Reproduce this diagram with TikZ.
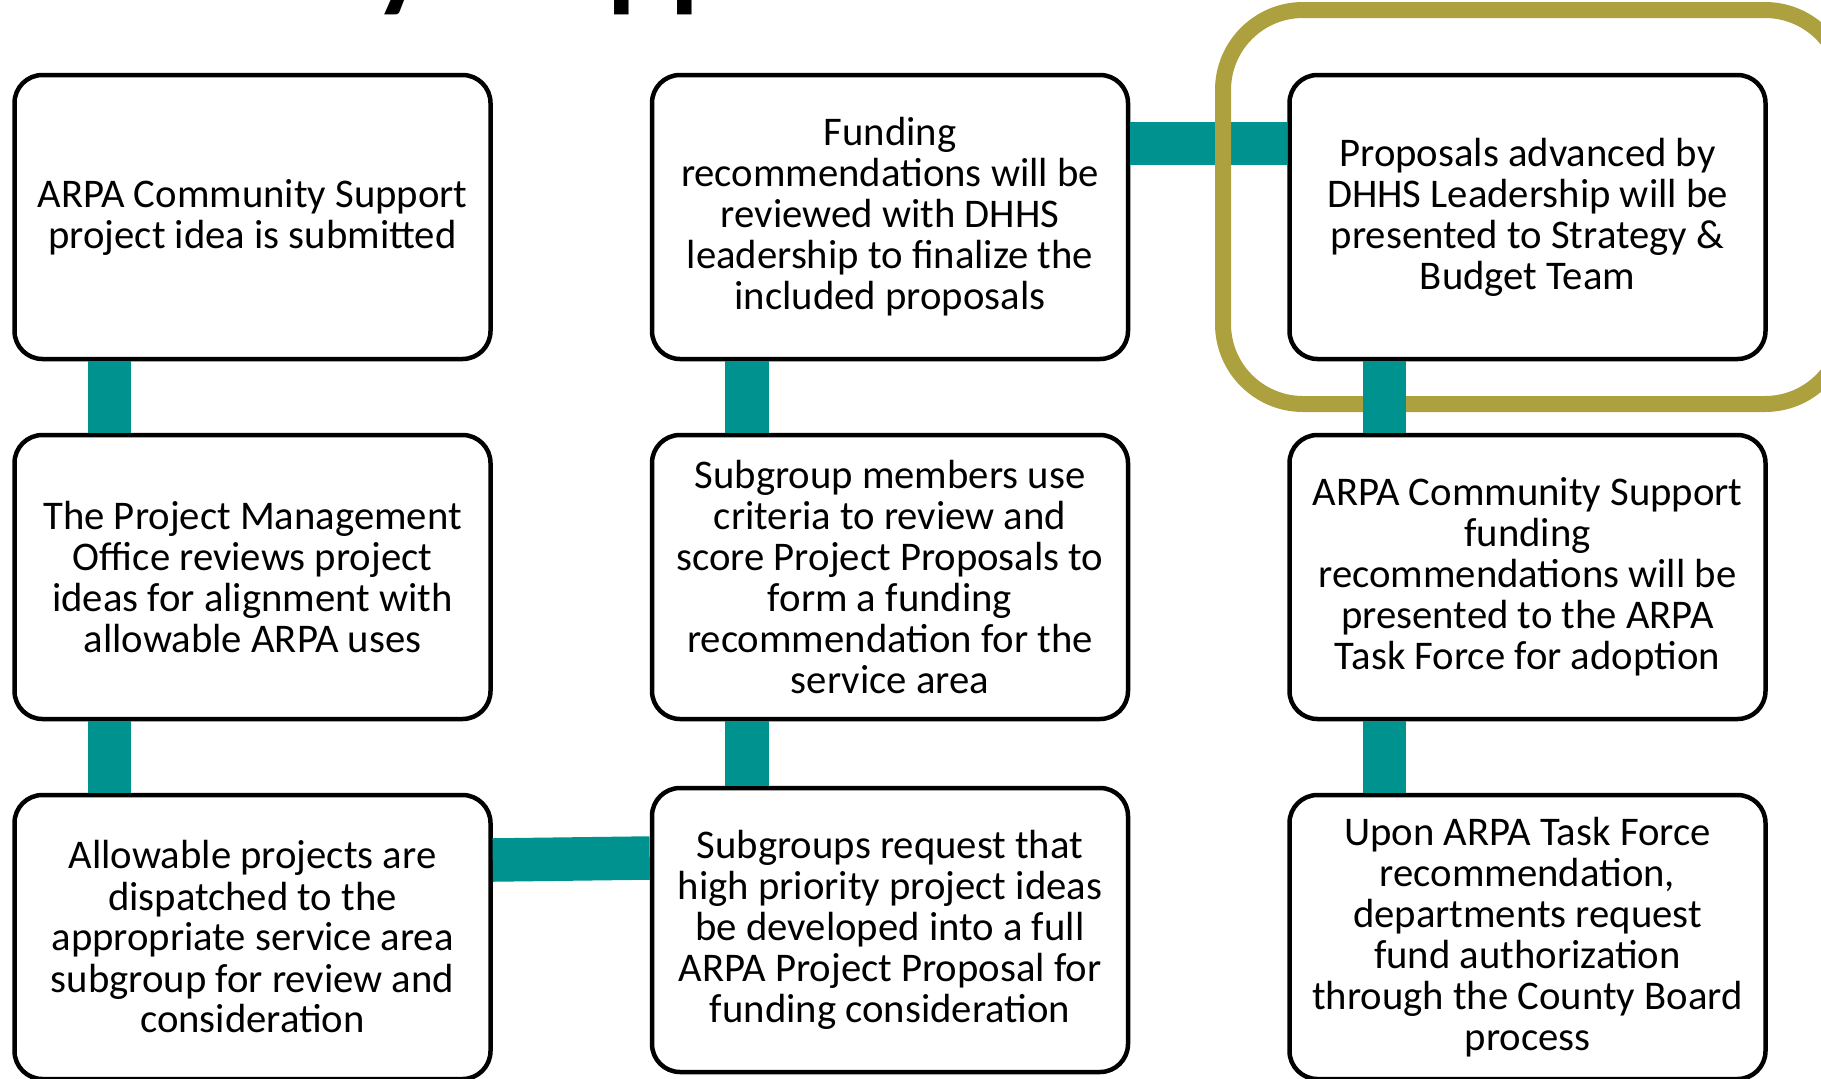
\documentclass[tikz,border=0pt]{standalone}
\usepackage{fontspec}
\setmainfont{Carlito}
\newfontfamily\titlefont[WordSpace=2.3]{Carlito}
\definecolor{teal}{RGB}{0,146,143}
\definecolor{olive}{RGB}{173,160,62}

\begin{document}
\begin{tikzpicture}[x=0.5pt,y=-0.5pt,
    box/.style={draw,line width=2.25pt,rounded corners=14pt,fill=white,
        minimum width=238pt,minimum height=142pt,inner sep=0pt,align=center,
        font=\fontsize{20.35pt}{20.5pt}\selectfont},
    link/.style={draw=teal,line width=21.75pt},
    frame/.style={draw=olive,line width=8pt,rounded corners=40pt}]
    \useasboundingbox (0,0) rectangle (1821,1078);
    % title, only its descenders are on the page
    \node[anchor=base west,inner sep=0pt,font=\titlefont\fontsize{58.5pt}{60pt}\bfseries] (title) at (-137,-4) {Community Support};
    % first column
    \node[box] (submit) at (252.5,217) {ARPA Community Support\\project idea is submitted};
    \node[box] (pmo) at (252.5,577) {The Project Management\\Office reviews project\\ideas for alignment with\\allowable ARPA uses};
    \node[box] (dispatch) at (252.5,937) {Allowable projects are\\dispatched to the\\appropriate service area\\subgroup for review and\\consideration};
    % second column
    \node[box] (request) at (890,930) {Subgroups request that\\high priority project ideas\\be developed into a full\\ARPA Project Proposal for\\funding consideration};
    \node[box] (score) at (890,577) {Subgroup members use\\criteria to review and\\score Project Proposals to\\form a funding\\recommendation for the\\service area};
    \node[box] (review) at (890,217) {Funding\\recommendations will be\\reviewed with DHHS\\leadership to finalize the\\included proposals};
    % third column
    \node[box] (budget) at (1527.5,217) {Proposals advanced by\\DHHS Leadership will be\\presented to Strategy \&\\Budget Team};
    \node[box] (taskforce) at (1527.5,577) {ARPA Community Support\\funding\\recommendations will be\\presented to the ARPA\\Task Force for adoption};
    \node[box] (board) at (1527.5,937) {Upon ARPA Task Force\\recommendation,\\departments request\\fund authorization\\through the County Board\\process};
    % connectors
    \draw[link] ([yshift=36.75pt]review.east) -- ([yshift=36.75pt]budget.west);
    \draw[frame] (1223,10) rectangle (1845,404);
    \draw[link] ([yshift=38.5pt]dispatch.east) -- ([yshift=36pt]request.west);
    \foreach \a/\b in {submit/pmo,pmo/dispatch,review/score,score/request,budget/taskforce,taskforce/board}
        \draw[link] ([xshift=-71.5pt]\a.south) -- ([xshift=-71.5pt]\b.north);
\end{tikzpicture}
\end{document}
